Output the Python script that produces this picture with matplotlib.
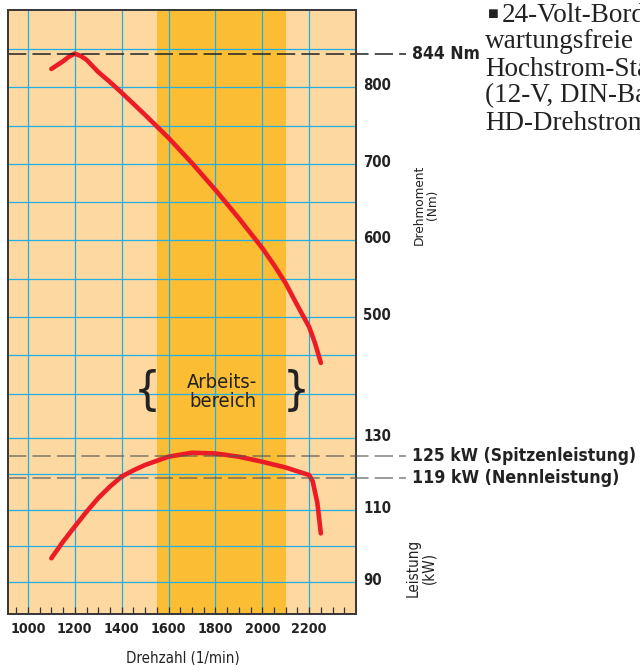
import matplotlib
matplotlib.use('Agg')
import matplotlib.pyplot as plt
from matplotlib import font_manager as fm
from matplotlib.transforms import offset_copy

# Drehmoment-Kurve (Nm) ueber Drehzahl (1/min)
rpm_torque = [1100, 1150, 1175, 1200, 1225, 1250, 1300, 1350, 1400, 1500, 1600, 1700, 1800, 1900,
              2000, 2050, 2100, 2150, 2200, 2225, 2250]
torque = [824, 834, 840, 844, 841, 836, 820, 807, 793, 764, 734, 701, 666, 629,
          590, 568, 544, 515, 487, 466, 440]

# Leistungs-Kurve (kW)
rpm_power = [1100, 1150, 1200, 1250, 1300, 1350, 1400, 1450, 1500, 1600, 1700, 1800, 1900, 2000,
             2100, 2200, 2215, 2235, 2250]
power = [96.6, 101.2, 105.4, 109.5, 113.3, 116.5, 119.3, 121.0, 122.5, 124.8, 125.9, 125.7, 124.8, 123.4,
         121.8, 119.7, 118.0, 112.0, 103.5]

band = (1550, 2100)
torque_ticks = [500, 600, 700, 800]
power_ticks = [90, 110, 130]
torque_grid = list(range(400, 851, 50))
power_grid = [90, 100, 110, 120, 130]
rpm_ticks = list(range(1000, 2201, 200))
rpm_minor = list(range(950, 2351, 50))
max_torque = 844
peak_power = 125
rated_power = 119

text_lines = ["24-Volt-Bordnetz,", "wartungsfreie", "Hochstrom-Starter-", "(12-V, DIN-Batterien)", "HD-Drehstromgenerator"]

peach = '#FDD8A0'
orange = '#FBBD33'
cyan = '#22AFE4'
red = '#EC1C26'
ink = '#222222'

# schmale Schrift suchen, sonst normale
fam, stretch = 'Roboto', 'normal'
for f in fm.fontManager.ttflist:
    if 'Serif' in f.name or 'Mono' in f.name:
        continue
    if 'Narrow' in f.name or 'Condensed' in f.name or f.stretch in ('condensed', 'semi-condensed'):
        fam, stretch = f.name, f.stretch
        break
narrow = [fam, 'DejaVu Sans']

W, H = 640, 665
fig = plt.figure(figsize=(W / 100, H / 100), dpi=100)
renderer = fig.canvas.get_renderer()


def size_for(s, width_px, weight='normal'):
    t = fig.text(0, 0, s, family=narrow, fontstretch=stretch, weight=weight, fontsize=10)
    w = t.get_window_extent(renderer).width
    t.remove()
    return 10 * width_px / w


ax = fig.add_axes([8 / W, 1 - 614 / H, 348 / W, 604 / H])
ax.set_facecolor(peach)
ax2 = ax.twinx()

ax.axvspan(band[0], band[1], color=orange, lw=0, zorder=0)
for v in rpm_ticks:
    ax.axvline(v, color=cyan, lw=0.9, zorder=1)
for v in torque_grid:
    ax.axhline(v, color=cyan, lw=0.9, zorder=1)
for v in power_grid:
    ax2.axhline(v, color=cyan, lw=0.9, zorder=1)

ax.plot(rpm_torque, torque, color=red, lw=3.3, solid_capstyle='round', solid_joinstyle='round', zorder=3)
ax2.plot(rpm_power, power, color=red, lw=3.3, solid_capstyle='round', solid_joinstyle='round', zorder=3)

x_end = 2613
ax.plot([915, x_end], [max_torque, max_torque], color=ink, lw=1.1, dashes=(12, 4),
        clip_on=False, zorder=4)
for p in (peak_power, rated_power):
    ax2.plot([915, x_end], [p, p], color='#555555', alpha=0.75, lw=1.1, dashes=(12, 4),
             clip_on=False, zorder=4)

lab_kw = dict(family=narrow, fontstretch=stretch, weight='bold', va='center', ha='left', color=ink)
ax.text(2640, max_torque, f"{max_torque} Nm", fontsize=size_for("844 Nm", 68, 'bold'), **lab_kw)
ax2.text(2640, peak_power, f"{peak_power} kW (Spitzenleistung)",
         fontsize=size_for("125 kW (Spitzenleistung)", 223, 'bold'), **lab_kw)
ax2.text(2640, rated_power, f"{rated_power} kW (Nennleistung)",
         fontsize=size_for("119 kW (Nennleistung)", 206, 'bold'), **lab_kw)

ax.set_xlim(915, 2400)
ax.set_ylim(112, 901)
ax2.set_ylim(81.1, 248.9)

# Achsen
tick_size = size_for("1000", 36, 'bold')
ytick_size = size_for("800", 28, 'bold')
tick_kw = dict(family=narrow, fontstretch=stretch, weight='bold', color=ink)
ax.set_xticks(rpm_ticks)
ax.set_xticks(rpm_minor, minor=True)
ax.set_xticklabels([str(v) for v in rpm_ticks], fontsize=tick_size, **tick_kw)
ax.tick_params(axis='x', which='both', direction='in', length=5, width=0.9, color='#333333', pad=6)
ax.yaxis.tick_right()
ax.set_yticks(torque_ticks)
ax.set_yticklabels([str(v) for v in torque_ticks], fontsize=ytick_size, **tick_kw)
ax.tick_params(axis='y', length=0, pad=5)
ax2.set_yticks(power_ticks)
ax2.set_yticklabels([str(v) for v in power_ticks], fontsize=ytick_size, **tick_kw)
ax2.tick_params(axis='y', length=0, pad=5)
for lab in ax.get_yticklabels() + ax2.get_yticklabels():
    lab.set_transform(offset_copy(lab.get_transform(), fig=fig, x=0, y=3, units='dots'))

for a in (ax, ax2):
    for s in a.spines.values():
        s.set_color('#3a3a3a')
        s.set_linewidth(1.4)

# Arbeitsbereich
txt_kw = dict(family=narrow, fontstretch=stretch, color=ink)
ax.text(1510, 402, "{", fontsize=34, ha='center', va='center', **txt_kw)
ax.text(2145, 402, "}", fontsize=34, ha='center', va='center', **txt_kw)
ax.text(1830, 402, "Arbeits-\nbereich", fontsize=size_for("Arbeits-", 70), ha='center', va='center',
        linespacing=1.0, **txt_kw)

fig.text(183 / W, 1 - 658 / H, "Drehzahl (1/min)", fontsize=size_for("Drehzahl (1/min)", 114),
         ha='center', va='center', **txt_kw)
fig.text(426 / W, 1 - 205 / H, "Drehmoment\n(Nm)", fontsize=size_for("Drehmoment", 80), rotation=90,
         ha='center', va='center', multialignment='center', linespacing=1.0, **txt_kw)
fig.text(421 / W, 1 - 568 / H, "Leistung\n(kW)", fontsize=size_for("Leistung", 58), rotation=90,
         ha='center', va='center', multialignment='center', linespacing=1.0, **txt_kw)

# Textspalte rechts
serif = ['Liberation Serif', 'DejaVu Serif']
fig.text(488 / W, 1 - 14 / H, "\u25A0", family=['Liberation Serif', 'DejaVu Sans'], fontsize=13,
         ha='left', va='center', color=ink)
for i, line in enumerate(text_lines):
    x0 = 502 if i == 0 else 485
    fig.text(x0 / W, 1 - (15 + 27 * i) / H, line, family=serif, fontsize=19.5,
             ha='left', va='center', color=ink)

fig.savefig('out.png', dpi=100)
